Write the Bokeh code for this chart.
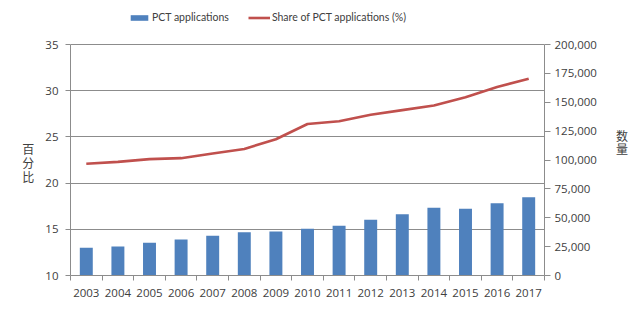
from bokeh.plotting import figure
from bokeh.models import (Range1d, LinearAxis, FixedTicker, NumeralTickFormatter,
                          Legend, LegendItem)
from bokeh.embed import file_html
from bokeh.resources import INLINE

years = [2003, 2004, 2005, 2006, 2007, 2008, 2009, 2010, 2011, 2012, 2013, 2014, 2015, 2016, 2017]
pct_applications = [24000, 25100, 28300, 31200, 34400, 37500, 38100, 40400, 43000,
                    48200, 53100, 58600, 57700, 62600, 67800]
share_pct = [22.1, 22.3, 22.6, 22.7, 23.2, 23.7, 24.75, 26.4, 26.7, 27.4, 27.9, 28.4, 29.3, 30.4, 31.3]
left_ticks = [10, 15, 20, 25, 30, 35]
right_ticks = [0, 25000, 50000, 75000, 100000, 125000, 150000, 175000, 200000]

FONT = "Open Sans"
LEGEND_FONT = "Lato"
CJK = "Noto Sans CJK SC"
TXT = "#404040"
GRID = "#8c8c8c"
BLUE = "#4F81BD"
RED = "#C0504D"

# frame extends above the top tick to leave room for the legend inside it
L_MIN, L_MAX = 10, 35
R_MIN, R_MAX = 0, 200000
headroom = 3.9  # in left-axis units
l_top = L_MAX + headroom
r_top = R_MIN + (R_MAX - R_MIN) * (l_top - L_MIN) / (L_MAX - L_MIN)

p = figure(width=640, height=323, output_backend="svg", toolbar_location=None,
           x_range=Range1d(years[0] - 0.5, years[-1] + 0.5), y_range=Range1d(L_MIN, l_top),
           min_border_left=70, min_border_right=96, min_border_top=8, min_border_bottom=48)
p.outline_line_color = None
p.background_fill_color = "white"
p.extra_y_ranges = {"count": Range1d(R_MIN, r_top)}

bars = p.vbar(x=years, top=pct_applications, width=0.41, bottom=0, y_range_name="count",
              fill_color=BLUE, line_color=None)
line = p.line(x=years, y=share_pct, line_color=RED, line_width=2.6)

# x axis
xa = p.xaxis[0]
xa.ticker = FixedTicker(ticks=years, minor_ticks=[y - 0.5 for y in years] + [years[-1] + 0.5])
xa.major_tick_out = 0
xa.major_tick_in = 0
xa.minor_tick_out = 5
xa.minor_tick_in = 0
xa.minor_tick_line_color = GRID
xa.axis_line_color = GRID
xa.major_label_standoff = 8
xa.major_label_text_font = FONT
xa.major_label_text_font_size = "11.5px"
xa.major_label_text_color = TXT

# left axis
ya = p.yaxis[0]
ya.ticker = FixedTicker(ticks=left_ticks)
ya.bounds = (L_MIN, L_MAX)
ya.major_tick_out = 5
ya.major_tick_in = 0
ya.minor_tick_out = 0
ya.minor_tick_in = 0
ya.major_tick_line_color = GRID
ya.axis_line_color = GRID
ya.major_label_standoff = 7
ya.major_label_text_font = FONT
ya.major_label_text_font_size = "11.5px"
ya.major_label_text_color = TXT
ya.axis_label = "\n\n\n百\n分\n比"
ya.axis_label_orientation = "horizontal"
ya.axis_label_text_font = CJK
ya.axis_label_text_font_size = "12px"
ya.axis_label_text_font_style = "normal"
ya.axis_label_text_line_height = 0.8
ya.axis_label_text_color = TXT
ya.axis_label_standoff = 8

# right axis
ra = LinearAxis(y_range_name="count", ticker=FixedTicker(ticks=right_ticks),
                formatter=NumeralTickFormatter(format="0,0"), bounds=(R_MIN, R_MAX))
ra.major_tick_out = 6
ra.major_tick_in = 0
ra.minor_tick_out = 0
ra.minor_tick_in = 0
ra.major_tick_line_color = GRID
ra.axis_line_color = GRID
ra.major_label_standoff = 4
ra.major_label_text_font = FONT
ra.major_label_text_font_size = "11.5px"
ra.major_label_text_color = TXT
ra.axis_label = "数\n量"
ra.axis_label_orientation = "horizontal"
ra.axis_label_text_font = CJK
ra.axis_label_text_font_size = "12px"
ra.axis_label_text_font_style = "normal"
ra.axis_label_text_line_height = 0.8
ra.axis_label_text_color = TXT
ra.axis_label_standoff = 16
p.add_layout(ra, "right")

p.xgrid.grid_line_color = None
p.ygrid.grid_line_color = GRID
p.ygrid.grid_line_width = 1
p.ygrid.ticker = FixedTicker(ticks=left_ticks)

legend = Legend(items=[LegendItem(label="PCT applications", renderers=[bars]),
                       LegendItem(label="Share of PCT applications (%)", renderers=[line])],
                orientation="horizontal", location=(58, 252),
                glyph_width=22, glyph_height=7, label_standoff=2, spacing=19,
                padding=0, margin=0, border_line_color=None, background_fill_alpha=0,
                label_text_font=LEGEND_FONT, label_text_font_size="10.5px", label_text_color=TXT)
p.add_layout(legend, "center")

open("out.html", "w").write(file_html(p, INLINE))
